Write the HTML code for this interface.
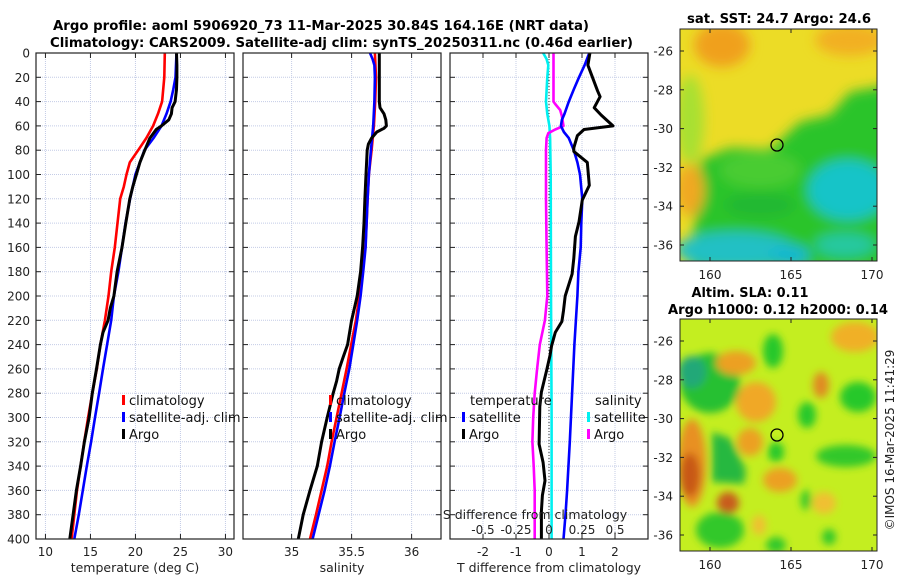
<!DOCTYPE html>
<html><head><meta charset="utf-8">
<style>
html,body{margin:0;padding:0;background:#fff;}
svg{display:block;font-family:"DejaVu Sans","Liberation Sans",sans-serif;}
</style></head>
<body>
<svg id="fig" width="900" height="580" viewBox="0 0 900 580" xmlns="http://www.w3.org/2000/svg">
<defs>
<filter id="blur1" x="-50%" y="-50%" width="200%" height="200%"><feGaussianBlur stdDeviation="6"/></filter>
<filter id="blur2" x="-50%" y="-50%" width="200%" height="200%"><feGaussianBlur stdDeviation="4"/></filter>
<clipPath id="clipM1"><rect x="680" y="29" width="197" height="232"/></clipPath>
<clipPath id="clipM2"><rect x="680" y="319" width="197" height="232"/></clipPath>
</defs>
<text x="53" y="30" font-size="13" font-weight="bold" textLength="536" lengthAdjust="spacingAndGlyphs">Argo profile: aoml 5906920_73 11-Mar-2025 30.84S 164.16E (NRT data)</text>
<text x="50" y="47" font-size="13" font-weight="bold" textLength="583" lengthAdjust="spacingAndGlyphs">Climatology: CARS2009. Satellite-adj clim: synTS_20250311.nc (0.46d earlier)</text>

<!-- Map 1 -->
<g clip-path="url(#clipM1)">
<rect x="680" y="29" width="197" height="232" fill="#ecdc26"/>
<g filter="url(#blur1)">
<ellipse cx="722" cy="45" rx="28" ry="22" fill="#f0a01c"/>
<ellipse cx="850" cy="40" rx="35" ry="16" fill="#f2b020"/>
<ellipse cx="690" cy="120" rx="14" ry="45" fill="#a8e030"/>
<path d="M700 160 L730 148 L770 150 L800 122 L830 115 L850 92 L890 85 L890 270 L690 270 Z" fill="#2cc42c"/>
<ellipse cx="760" cy="170" rx="40" ry="18" fill="#48cc30"/>
<ellipse cx="848" cy="190" rx="40" ry="30" fill="#18c4c8"/>
<ellipse cx="735" cy="250" rx="60" ry="18" fill="#20c0c4"/>
<ellipse cx="790" cy="255" rx="20" ry="10" fill="#18b8d0"/>
<ellipse cx="690" cy="190" rx="14" ry="26" fill="#f0a820"/>
<ellipse cx="845" cy="245" rx="30" ry="12" fill="#28c8a0"/>
<ellipse cx="760" cy="205" rx="35" ry="12" fill="#20b830"/>
</g>
</g>
<rect x="680" y="29" width="197" height="232" fill="none" stroke="#222" stroke-width="1"/>
<circle cx="777" cy="145" r="6" fill="none" stroke="#000" stroke-width="1.3"/>
<text x="779" y="23" font-size="13" font-weight="bold" text-anchor="middle" textLength="184" lengthAdjust="spacingAndGlyphs">sat. SST: 24.7 Argo: 24.6</text>

<!-- Map 2 -->
<g clip-path="url(#clipM2)">
<rect x="680" y="319" width="197" height="232" fill="#c4ee20"/>
<g filter="url(#blur2)">
<ellipse cx="710" cy="383" rx="30" ry="30" fill="#28c030"/>
<ellipse cx="692" cy="372" rx="14" ry="16" fill="#20a878"/>
<ellipse cx="692" cy="463" rx="14" ry="44" fill="#e89020"/>
<ellipse cx="690" cy="475" rx="10" ry="22" fill="#c85818"/>
<path d="M712 432 L730 438 L746 470 L744 484 L712 482 Z" fill="#28b840"/>
<ellipse cx="736" cy="363" rx="20" ry="12" fill="#eca024"/>
<ellipse cx="756" cy="402" rx="20" ry="20" fill="#f0a828"/>
<ellipse cx="750" cy="442" rx="13" ry="14" fill="#eca024"/>
<ellipse cx="728" cy="503" rx="11" ry="11" fill="#c85c1c"/>
<ellipse cx="780" cy="480" rx="17" ry="12" fill="#eca024"/>
<ellipse cx="773" cy="351" rx="10" ry="17" fill="#28c82c"/>
<ellipse cx="807" cy="415" rx="9" ry="13" fill="#28c82c"/>
<ellipse cx="776" cy="452" rx="8" ry="10" fill="#28c82c"/>
<ellipse cx="821" cy="385" rx="8" ry="13" fill="#e08a22"/>
<ellipse cx="858" cy="397" rx="18" ry="15" fill="#28c82c"/>
<ellipse cx="846" cy="456" rx="30" ry="11" fill="#30c82c"/>
<ellipse cx="855" cy="337" rx="24" ry="15" fill="#f0b028"/>
<ellipse cx="720" cy="530" rx="24" ry="18" fill="#30c82c"/>
<ellipse cx="776" cy="545" rx="10" ry="8" fill="#30c82c"/>
<ellipse cx="806" cy="500" rx="5" ry="10" fill="#30c82c"/>
<ellipse cx="829" cy="537" rx="7" ry="8" fill="#30c82c"/>
<ellipse cx="824" cy="503" rx="12" ry="11" fill="#f0c030"/>
<ellipse cx="759" cy="525" rx="7" ry="10" fill="#f0c030"/>
</g>
</g>
<rect x="680" y="319" width="197" height="232" fill="none" stroke="#222" stroke-width="1"/>
<circle cx="777" cy="435" r="6" fill="none" stroke="#000" stroke-width="1.3"/>
<text x="750" y="297" font-size="13" font-weight="bold" text-anchor="middle" textLength="117" lengthAdjust="spacingAndGlyphs">Altim. SLA: 0.11</text>
<text x="778" y="314" font-size="13" font-weight="bold" text-anchor="middle" textLength="220" lengthAdjust="spacingAndGlyphs">Argo h1000: 0.12 h2000: 0.14</text>
<text transform="translate(894,440) rotate(-90)" font-size="12" text-anchor="middle" fill="#222">©IMOS 16-Mar-2025 11:41:29</text>
</svg>
<script>
// ---- data ----
const depthTicks = [0,20,40,60,80,100,120,140,160,180,200,220,240,260,280,300,320,340,360,380,400];
const tempTicks = [10,15,20,25,30];
const salTicks = [35,35.5,36];
const salTickLabels = ["35","35.5","36"];
const dTTicks = [-2,-1,0,1,2];
const dSTicks = [-0.5,-0.25,0,0.25,0.5];
const dSTickLabels = ["-0.5","-0.25","0","0.25","0.5"];
const latTicks = [-26,-28,-30,-32,-34,-36];
const lonTicks = [160,165,170];

const climTDepth = [0,20,40,50,60,70,80,90,100,110,120,140,160,180,200,220,240,260,280,300,320,340,360,380,400];
const climT = [23.26,23.2,22.96,22.5,21.96,21.2,20.3,19.37,19.0,18.7,18.3,18.0,17.7,17.3,17.0,16.6,16.1,15.7,15.2,14.74,14.3,13.9,13.5,13.2,12.9];
const satTDepth = [0,20,30,40,50,60,70,80,90,100,120,140,160,180,200,220,240,260,280,300,320,340,360,380,400];
const satT = [24.56,24.45,24.2,23.9,23.45,22.9,22.0,21.0,20.5,20.0,19.4,18.9,18.5,18.1,17.6,17.3,16.85,16.4,15.96,15.5,15.07,14.6,14.15,13.7,13.2];
const argoTDepth = [0,10,20,30,40,45,50,55,60,63,70,80,90,100,110,120,140,160,180,200,210,220,230,240,260,280,300,320,340,360,380,400];
const argoT = [24.56,24.6,24.6,24.56,24.4,24.07,24.0,23.7,22.9,22.3,21.6,21.04,20.5,20.1,19.7,19.37,18.93,18.5,17.96,17.6,17.2,16.96,16.4,16.1,15.67,15.2,14.85,14.33,13.9,13.44,13.07,12.7];

const climSDepth = [0,20,40,60,80,100,120,140,160,180,200,220,240,260,280,300,320,340,360,380,400];
const climS = [35.694,35.703,35.697,35.686,35.667,35.644,35.633,35.625,35.614,35.592,35.564,35.536,35.497,35.458,35.417,35.375,35.333,35.297,35.25,35.203,35.153];
const satSDepth = [0,5,10,20,40,60,80,100,120,140,160,180,200,220,240,260,280,300,320,340,360,380,400];
const satS = [35.653,35.675,35.69,35.694,35.69,35.68,35.661,35.644,35.633,35.625,35.617,35.597,35.575,35.547,35.514,35.481,35.439,35.4,35.358,35.319,35.275,35.225,35.175];
const argoSDepth = [0,40,45,50,55,60,62,65,70,75,80,100,120,140,160,180,200,220,240,250,260,270,280,300,320,340,360,380,400];
const argoS = [35.731,35.731,35.737,35.77,35.785,35.79,35.77,35.71,35.667,35.64,35.63,35.62,35.611,35.603,35.592,35.575,35.547,35.5,35.467,35.431,35.397,35.375,35.347,35.297,35.25,35.214,35.153,35.097,35.056];

const satDTDepth = [0,10,20,30,40,50,55,60,65,70,80,90,100,120,140,160,180,200,240,280,320,360,380,400];
const satDT = [1.22,1.08,0.91,0.75,0.6,0.47,0.39,0.36,0.45,0.6,0.75,0.86,0.94,1.01,0.98,0.96,0.89,0.86,0.77,0.70,0.63,0.55,0.5,0.44];
const argoDTDepth = [0,10,31,36,45,51,60,63,68,78,81,90,109,121,139,151,169,182,200,212,221,230,241,249,261,279,291,322,337,352,364,377,400];
const argoDT = [1.24,1.18,1.47,1.55,1.37,1.58,1.94,1.06,0.86,0.75,0.75,1.16,1.22,1.01,0.91,0.80,0.75,0.70,0.49,0.44,0.39,0.19,0.08,0.03,-0.07,-0.23,-0.28,-0.30,-0.18,-0.12,-0.2,-0.23,-0.23];
const satDSDepth = [0,5,10,20,40,50,60,70,100,200,300,400];
const satDS = [-0.044,-0.018,-0.005,-0.013,-0.023,-0.013,0.003,0.008,0.013,0.015,0.02,0.02];
const argoDSDepth = [0,40,42,47,52,60,63,66,70,80,120,160,200,220,240,260,280,300,320,340,360,380,400];
const argoDS = [0.034,0.034,0.047,0.085,0.098,0.11,0.047,-0.005,-0.018,-0.023,-0.023,-0.018,-0.013,-0.031,-0.07,-0.09,-0.108,-0.12,-0.126,-0.116,-0.108,-0.108,-0.108];

// ---- helpers ----
const NS = "http://www.w3.org/2000/svg";
const svg = document.getElementById("fig");
function mk(tag, attrs, parent){
  const e = document.createElementNS(NS, tag);
  for (const k in attrs) e.setAttribute(k, attrs[k]);
  (parent||svg).appendChild(e);
  return e;
}
const TOP = 53, BOT = 539;
function yD(d){ return TOP + (d/400)*(BOT-TOP); }
function lin(d0,d1,r0,r1){ return v => r0 + (v-d0)/(d1-d0)*(r1-r0); }

const panels = [
  {name:"temperature", x0:36, x1:234, sx: lin(8.95,30.95,36,234), ticks:tempTicks, labels:tempTicks.map(String), xlabel:"temperature (deg C)"},
  {name:"salinity", x0:243, x1:441, sx: lin(34.595,36.245,243,441), ticks:salTicks, labels:salTickLabels, xlabel:"salinity"},
  {name:"difference", x0:450, x1:648, sx: lin(-3,3,450,648), ticks:dTTicks, labels:dTTicks.map(String), xlabel:"T difference from climatology"}
];
const sxS = lin(-0.75,0.75,450,648);

panels.forEach((p,pi)=>{
  const g = mk("g",{});
  
  
  depthTicks.forEach(d=>{
    const l = mk("line",{x1:p.x0,x2:p.x1,y1:yD(d),y2:yD(d),stroke:"#c4cce6","stroke-width":1,"stroke-dasharray":"1,1"},g);
    
    
  });
  p.ticks.forEach(t=>{
    const l = mk("line",{x1:p.sx(t),x2:p.sx(t),y1:TOP,y2:BOT,stroke:"#c4cce6","stroke-width":1,"stroke-dasharray":"1,1"},g);
    
    
  });
  depthTicks.forEach(d=>{
    mk("line",{x1:p.x0,x2:p.x0+5,y1:yD(d),y2:yD(d),stroke:"#222"},g);
    mk("line",{x1:p.x1-5,x2:p.x1,y1:yD(d),y2:yD(d),stroke:"#222"},g);
    if (pi===0){
      const t = mk("text",{x:30,y:yD(d)+4.5,"font-size":12,"text-anchor":"end",fill:"#222"},g);
      t.textContent = d;
      
      
    }
  });
  p.ticks.forEach((t,i)=>{
    mk("line",{x1:p.sx(t),x2:p.sx(t),y1:BOT,y2:BOT-5,stroke:"#222"},g);
    mk("line",{x1:p.sx(t),x2:p.sx(t),y1:TOP,y2:TOP+5,stroke:"#222"},g);
    const tx = mk("text",{x:p.sx(t),y:556,"font-size":12,"text-anchor":"middle",fill:"#222"},g);
    tx.textContent = p.labels[i];
    
    
  });
  const xl = mk("text",{x:(p.x0+p.x1)/2,y:572,"font-size":12.5,"text-anchor":"middle",fill:"#222"},g);
  xl.textContent = p.xlabel;
  
  
  p.g = g;
});

function drawLine(g, xs, ds, sx, color, w, name){
  const pts = xs.map((v,i)=> sx(v).toFixed(1)+","+yD(ds[i]).toFixed(1)).join(" ");
  const l = mk("polyline",{points:pts,fill:"none",stroke:color,"stroke-width":w,"stroke-linejoin":"round"},g);
  
  
}

drawLine(panels[0].g, climT, climTDepth, panels[0].sx, "#ff0000", 2.6, "climatology-temperature-line");
drawLine(panels[0].g, satT, satTDepth, panels[0].sx, "#0000ff", 2.6, "satellite-temperature-line");
drawLine(panels[0].g, argoT, argoTDepth, panels[0].sx, "#000000", 3, "argo-temperature-line");
drawLine(panels[1].g, climS, climSDepth, panels[1].sx, "#ff0000", 2.6, "climatology-salinity-line");
drawLine(panels[1].g, satS, satSDepth, panels[1].sx, "#0000ff", 2.6, "satellite-salinity-line");
drawLine(panels[1].g, argoS, argoSDepth, panels[1].sx, "#000000", 3, "argo-salinity-line");
const zl = mk("line",{x1:549,x2:549,y1:TOP,y2:BOT,stroke:"#333","stroke-width":1,"stroke-dasharray":"1,2"},panels[2].g);


drawLine(panels[2].g, satDS, satDSDepth, sxS, "#00f0f0", 2.6, "satellite-salinity-diff-line");
drawLine(panels[2].g, argoDS, argoDSDepth, sxS, "#ff00ff", 2.6, "argo-salinity-diff-line");
drawLine(panels[2].g, satDT, satDTDepth, panels[2].sx, "#0000ff", 2.6, "satellite-temperature-diff-line");
drawLine(panels[2].g, argoDT, argoDTDepth, panels[2].sx, "#000000", 3, "argo-temperature-diff-line");

const sTitle = mk("text",{x:535,y:519,"font-size":12.5,"text-anchor":"middle",fill:"#222"});
sTitle.textContent = "S difference from climatology";


dSTicks.forEach((t,i)=>{
  const tx = mk("text",{x:sxS(t),y:534,"font-size":12,"text-anchor":"middle",fill:"#222"});
  tx.textContent = dSTickLabels[i];
  
  
});

panels.forEach(p=>{
  const r = mk("rect",{x:p.x0,y:TOP,width:p.x1-p.x0,height:BOT-TOP,fill:"none",stroke:"#222","stroke-width":1.2});
  
  
});

function legendEntry(x,y,color,label){
  const g = mk("g",{});
  
  
  if (color) mk("rect",{x:x,y:y-10,width:3,height:10,fill:color},g);
  const t = mk("text",{x:x+7,y:y,"font-size":13,fill:"#111"},g);
  t.textContent = label;
}
legendEntry(122,405,"#ff0000","climatology");
legendEntry(122,422,"#0000ff","satellite-adj. clim");
legendEntry(122,439,"#000000","Argo");
legendEntry(329,405,"#ff0000","climatology");
legendEntry(329,422,"#0000ff","satellite-adj. clim");
legendEntry(329,439,"#000000","Argo");
legendEntry(463,405,null,"temperature");
legendEntry(462,422,"#0000ff","satellite");
legendEntry(462,439,"#000000","Argo");
legendEntry(588,405,null,"salinity");
legendEntry(587,422,"#00f0f0","satellite");
legendEntry(587,439,"#ff00ff","Argo");

function mapAxes(top, bottom, latY0, name){
  const g = mk("g",{});
  
  
  const yLat = lin(-26,-36,latY0,latY0+194);
  const xLon = lin(160,170,710,872);
  latTicks.forEach(v=>{
    const y = yLat(v);
    mk("line",{x1:680,x2:684,y1:y,y2:y,stroke:"#222"},g);
    mk("line",{x1:873,x2:877,y1:y,y2:y,stroke:"#222"},g);
    const t = mk("text",{x:673,y:y+4.5,"font-size":12,"text-anchor":"end",fill:"#222"},g);
    t.textContent = v;
    
    
  });
  lonTicks.forEach(v=>{
    const x = xLon(v);
    mk("line",{x1:x,x2:x,y1:bottom,y2:bottom-4,stroke:"#222"},g);
    mk("line",{x1:x,x2:x,y1:top,y2:top+4,stroke:"#222"},g);
    const t = mk("text",{x:x,y:bottom+18,"font-size":12,"text-anchor":"middle",fill:"#222"},g);
    t.textContent = v;
    
    
  });
}
mapAxes(29,261,51,"sst-map");
mapAxes(319,551,341,"sla-map");
</script>
</body></html>
